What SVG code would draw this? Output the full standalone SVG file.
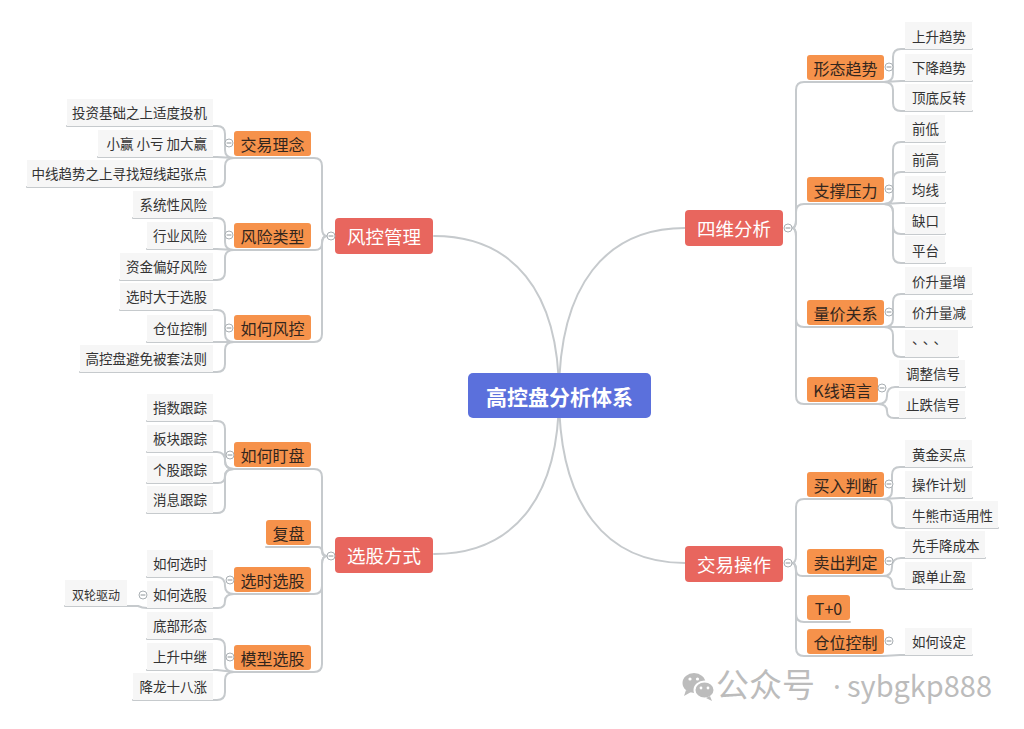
<svg xmlns="http://www.w3.org/2000/svg" width="1024" height="729" viewBox="0 0 1024 729">
<style>
.c{fill:none;stroke:#c6cacd;stroke-width:2;stroke-linecap:round}
.t{font-family:"Noto Sans CJK SC","Noto Sans",sans-serif;dominant-baseline:central}
.lf rect{fill:#f6f6f6}
.lf text{font-size:13.5px;fill:#333}
.l2 rect{fill:#f6924b}
.l2 text{font-size:16px;fill:#33261d;text-anchor:middle}
.l1 rect{fill:#e8665e}
.l1 text{font-size:18.5px;fill:#fff;text-anchor:middle}
.rt rect{fill:#5b70dc}
.rt text{font-size:21px;font-weight:bold;fill:#fff;text-anchor:middle}
.wm{font-family:"Noto Sans CJK SC","Noto Sans",sans-serif;fill:#bcbcbc}
</style>
<defs>
<g id="tog"><circle r="4" fill="#fff" stroke="#a9afb3" stroke-width="1"/><line x1="-2.4" y1="0" x2="2.4" y2="0" stroke="#8d9498" stroke-width="1"/></g>
</defs>
<rect width="1024" height="729" fill="#fff"/>

<g id="connectors">
<path class="c" d="M559,395 C559,290 512,236 434,236"/>
<path class="c" d="M559,395 C559,285 606,228 685,228"/>
<path class="c" d="M559,395 C559,500 512,554 434,554"/>
<path class="c" d="M559,395 C559,505 606,563 685,563"/>
<path class="c" d="M327,236 Q322,236 322,228 V166 Q322,158 314,158 H234"/>
<path class="c" d="M327,236 Q322,236 322,243 Q322,250 315,250 H234"/>
<path class="c" d="M327,236 Q322,236 322,244 V334 Q322,342 314,342 H234"/>
<path class="c" d="M327,556 Q322,556 322,548 V477 Q322,469 314,469 H234"/>
<path class="c" d="M327,556 Q322,556 322,551.5 Q322,547 317.5,547 H266"/>
<path class="c" d="M327,556 Q322,556 322,564 V586 Q322,594 314,594 H234"/>
<path class="c" d="M327,556 Q322,556 322,564 V664 Q322,672 314,672 H234"/>
<path class="c" d="M234,158 Q225,158 225,150 V134 Q225,126 217,126 H67"/>
<path class="c" d="M234,158 L217,157 H98"/>
<path class="c" d="M234,158 Q225,158 225,166 V179 Q225,187 217,187 H27"/>
<path class="c" d="M234,250 Q225,250 225,242 V226 Q225,218 217,218 H133"/>
<path class="c" d="M234,250 L217,249 H147"/>
<path class="c" d="M234,250 Q225,250 225,258 V272 Q225,280 217,280 H120"/>
<path class="c" d="M234,342 Q225,342 225,334 V318 Q225,310 217,310 H120"/>
<path class="c" d="M234,342 H147"/>
<path class="c" d="M234,342 Q225,342 225,350 V364 Q225,372 217,372 H80"/>
<path class="c" d="M234,469 Q225,469 225,461 V429 Q225,421 217,421 H147"/>
<path class="c" d="M234,469 Q225,469 225,461 Q225,452 217,452 H147"/>
<path class="c" d="M234,469 Q225,469 225,476 Q225,483 218,483 H147"/>
<path class="c" d="M234,469 Q225,469 225,477 V505 Q225,513 217,513 H147"/>
<path class="c" d="M234,594 Q225,594 225,586 Q225,577 217,577 H147"/>
<path class="c" d="M234,594 Q225,594 225,601 Q225,608 218,608 H147"/>
<path class="c" d="M147,608 Q142,608 138,606 H65"/>
<path class="c" d="M234,672 Q225,672 225,664 V647 Q225,639 217,639 H147"/>
<path class="c" d="M234,672 L217,670 H147"/>
<path class="c" d="M234,672 Q225,672 225,680 V692 Q225,700 217,700 H133"/>
<path class="c" d="M792,228 Q796,228 796,220 V90 Q796,82 804,82 H884"/>
<path class="c" d="M792,228 Q796,228 796,220 V212 Q796,204 804,204 H884"/>
<path class="c" d="M792,228 Q796,228 796,236 V319 Q796,327 804,327 H884"/>
<path class="c" d="M792,228 Q796,228 796,236 V396 Q796,404 804,404 H878"/>
<path class="c" d="M792,563 Q796,563 796,555 V507 Q796,499 804,499 H883"/>
<path class="c" d="M792,563 Q796,563 796,569.5 Q796,576 802.5,576 H883"/>
<path class="c" d="M792,563 Q796,563 796,571 V614 Q796,622 804,622 H850"/>
<path class="c" d="M792,563 Q796,563 796,571 V648 Q796,656 804,656 H883"/>
<path class="c" d="M884,82 Q893,82 893,74 V57 Q893,49 901,49 H972"/>
<path class="c" d="M884,82 L901,81 H972"/>
<path class="c" d="M884,82 Q893,82 893,90 V103 Q893,111 901,111 H972"/>
<path class="c" d="M884,204 Q893,204 893,196 V150 Q893,142 901,142 H945"/>
<path class="c" d="M884,204 Q893,204 893,196 V180 Q893,172 901,172 H945"/>
<path class="c" d="M884,204 L901,203 H945"/>
<path class="c" d="M884,204 Q893,204 893,212 V226 Q893,234 901,234 H945"/>
<path class="c" d="M884,204 Q893,204 893,212 V255 Q893,263 901,263 H945"/>
<path class="c" d="M884,327 Q893,327 893,319 V302 Q893,294 901,294 H972"/>
<path class="c" d="M884,327 H972"/>
<path class="c" d="M884,327 Q893,327 893,335 V349 Q893,357 901,357 H958"/>
<path class="c" d="M878,404 Q887,404 887,396 Q887,387 895,387 H965"/>
<path class="c" d="M878,404 Q887,404 887,411 Q887,418 894,418 H965"/>
<path class="c" d="M883,499 Q892,499 892,491 V475 Q892,467 900,467 H972"/>
<path class="c" d="M883,499 L900,498 H972"/>
<path class="c" d="M883,499 Q892,499 892,507 V520 Q892,528 900,528 H998"/>
<path class="c" d="M883,576 Q892,576 892,567 Q892,558 901,558 H985"/>
<path class="c" d="M883,576 Q892,576 892,582.5 Q892,589 898.5,589 H972"/>
<path class="c" d="M883,656 L900,655 H972"/>
</g>

<g id="root" class="rt t"><rect x="468" y="373" width="183" height="45" rx="5"/><text x="559.5" y="395.5">高控盘分析体系</text></g>

<g id="n-fkgl" class="l1 t"><rect x="335" y="218" width="98" height="36" rx="4"/><text x="384" y="236">风控管理</text></g>
<g id="n-xgfs" class="l1 t"><rect x="335" y="537" width="98" height="36" rx="4"/><text x="384" y="555">选股方式</text></g>
<g id="n-swfx" class="l1 t"><rect x="685" y="210" width="98" height="36" rx="4"/><text x="734" y="228">四维分析</text></g>
<g id="n-jycz" class="l1 t"><rect x="685" y="546" width="98" height="36" rx="4"/><text x="734" y="564">交易操作</text></g>

<g id="n-jyln" class="l2 t"><rect x="234" y="131" width="77" height="25" rx="3"/><text x="272.5" y="143.5">交易理念</text></g>
<g id="n-fxlx" class="l2 t"><rect x="234" y="223" width="77" height="25" rx="3"/><text x="272.5" y="235.5">风险类型</text></g>
<g id="n-rhfk" class="l2 t"><rect x="234" y="315" width="77" height="25" rx="3"/><text x="272.5" y="327.5">如何风控</text></g>
<g id="n-rhdp" class="l2 t"><rect x="234" y="442" width="77" height="25" rx="3"/><text x="272.5" y="454.5">如何盯盘</text></g>
<g id="n-fp" class="l2 t"><rect x="266" y="520" width="45" height="25" rx="3"/><text x="288.5" y="532.5">复盘</text></g>
<g id="n-xsxg" class="l2 t"><rect x="234" y="567" width="77" height="25" rx="3"/><text x="272.5" y="579.5">选时选股</text></g>
<g id="n-mxxg" class="l2 t"><rect x="234" y="645" width="77" height="25" rx="3"/><text x="272.5" y="657.5">模型选股</text></g>
<g id="n-xtqs" class="l2 t"><rect x="807" y="55" width="77" height="25" rx="3"/><text x="845.5" y="67.5">形态趋势</text></g>
<g id="n-zcyl" class="l2 t"><rect x="807" y="177" width="77" height="25" rx="3"/><text x="845.5" y="189.5">支撑压力</text></g>
<g id="n-ljgx" class="l2 t"><rect x="807" y="300" width="77" height="25" rx="3"/><text x="845.5" y="312.5">量价关系</text></g>
<g id="n-kxyy" class="l2 t"><rect x="807" y="377" width="71" height="25" rx="3"/><text x="842.5" y="389.5">K线语言</text></g>
<g id="n-mrpd" class="l2 t"><rect x="807" y="472" width="77" height="25" rx="3"/><text x="845.5" y="484.5">买入判断</text></g>
<g id="n-mcpd" class="l2 t"><rect x="807" y="549" width="77" height="25" rx="3"/><text x="845.5" y="561.5">卖出判定</text></g>
<g id="n-t0" class="l2 t"><rect x="807" y="595" width="43" height="25" rx="3"/><text x="828.5" y="607.5">T+0</text></g>
<g id="n-cwkz2" class="l2 t"><rect x="807" y="629" width="77" height="25" rx="3"/><text x="845.5" y="641.5">仓位控制</text></g>

<g class="lf t" text-anchor="end">
<g id="l1"><rect x="67" y="99" width="146" height="27"/><text x="207" y="112">投资基础之上适度投机</text></g>
<g id="l2"><rect x="98" y="130" width="115" height="27"/><text x="207" y="143">小赢 小亏 加大赢</text></g>
<g id="l3"><rect x="27" y="160" width="186" height="27"/><text x="207" y="173">中线趋势之上寻找短线起张点</text></g>
<g id="l4"><rect x="133" y="191" width="80" height="27"/><text x="207" y="204">系统性风险</text></g>
<g id="l5"><rect x="147" y="222" width="66" height="27"/><text x="207" y="235">行业风险</text></g>
<g id="l6"><rect x="120" y="253" width="93" height="27"/><text x="207" y="266">资金偏好风险</text></g>
<g id="l7"><rect x="120" y="283" width="93" height="27"/><text x="207" y="296">选时大于选股</text></g>
<g id="l8"><rect x="147" y="315" width="66" height="27"/><text x="207" y="328">仓位控制</text></g>
<g id="l9"><rect x="80" y="345" width="133" height="27"/><text x="207" y="358">高控盘避免被套法则</text></g>
<g id="l10"><rect x="147" y="394" width="66" height="27"/><text x="207" y="407">指数跟踪</text></g>
<g id="l11"><rect x="147" y="425" width="66" height="27"/><text x="207" y="438">板块跟踪</text></g>
<g id="l12"><rect x="147" y="456" width="66" height="27"/><text x="207" y="469">个股跟踪</text></g>
<g id="l13"><rect x="147" y="486" width="66" height="27"/><text x="207" y="499">消息跟踪</text></g>
<g id="l14"><rect x="147" y="550" width="66" height="27"/><text x="207" y="563">如何选时</text></g>
<g id="l15"><rect x="147" y="581" width="66" height="27"/><text x="207" y="594">如何选股</text></g>
<g id="l16"><rect x="65" y="580" width="62" height="26"/><text x="120" y="594" style="font-size:12px">双轮驱动</text></g>
<g id="l17"><rect x="147" y="612" width="66" height="27"/><text x="207" y="625">底部形态</text></g>
<g id="l18"><rect x="147" y="643" width="66" height="27"/><text x="207" y="656">上升中继</text></g>
<g id="l19"><rect x="133" y="673" width="80" height="27"/><text x="207" y="686">降龙十八涨</text></g>
</g>

<g class="lf t" text-anchor="start">
<g id="r1"><rect x="905" y="22" width="67" height="27"/><text x="912" y="35.5">上升趋势</text></g>
<g id="r2"><rect x="905" y="54" width="67" height="27"/><text x="912" y="67">下降趋势</text></g>
<g id="r3"><rect x="905" y="84" width="67" height="27"/><text x="912" y="97">顶底反转</text></g>
<g id="r4"><rect x="905" y="115" width="40" height="27"/><text x="912" y="128">前低</text></g>
<g id="r5"><rect x="905" y="145" width="40" height="27"/><text x="912" y="158.5">前高</text></g>
<g id="r6"><rect x="905" y="176" width="40" height="27"/><text x="912" y="189">均线</text></g>
<g id="r7"><rect x="905" y="207" width="40" height="27"/><text x="912" y="220">缺口</text></g>
<g id="r8"><rect x="905" y="236" width="40" height="27"/><text x="912" y="250">平台</text></g>
<g id="r9"><rect x="905" y="267" width="67" height="27"/><text x="912" y="281">价升量增</text></g>
<g id="r10"><rect x="905" y="300" width="67" height="27"/><text x="912" y="312">价升量减</text></g>
<g id="r11"><rect x="905" y="330" width="53" height="27"/><text x="912" y="338" style="letter-spacing:4px">、、、</text></g>
<g id="r12"><rect x="899" y="360" width="66" height="27"/><text x="906" y="373">调整信号</text></g>
<g id="r13"><rect x="899" y="391" width="66" height="27"/><text x="906" y="404">止跌信号</text></g>
<g id="r14"><rect x="905" y="440" width="67" height="27"/><text x="912" y="454">黄金买点</text></g>
<g id="r15"><rect x="905" y="471" width="67" height="27"/><text x="912" y="484">操作计划</text></g>
<g id="r16"><rect x="905" y="501" width="93" height="27"/><text x="912" y="515">牛熊市适用性</text></g>
<g id="r17"><rect x="905" y="531" width="80" height="27"/><text x="912" y="545">先手降成本</text></g>
<g id="r18"><rect x="905" y="562" width="67" height="27"/><text x="912" y="576">跟单止盈</text></g>
<g id="r19"><rect x="905" y="628" width="67" height="27"/><text x="912" y="641">如何设定</text></g>
</g>

<g id="toggles">
<use href="#tog" x="331" y="236"/><use href="#tog" x="331" y="556"/>
<use href="#tog" x="229" y="143"/><use href="#tog" x="229" y="235"/><use href="#tog" x="229" y="328"/>
<use href="#tog" x="230" y="455"/><use href="#tog" x="230" y="580"/><use href="#tog" x="230" y="657"/>
<use href="#tog" x="143" y="595"/>
<use href="#tog" x="788" y="228"/><use href="#tog" x="788" y="563"/>
<use href="#tog" x="889" y="67"/><use href="#tog" x="889" y="189"/><use href="#tog" x="889" y="312"/>
<use href="#tog" x="882" y="388"/><use href="#tog" x="889" y="484"/><use href="#tog" x="889" y="561"/><use href="#tog" x="889" y="641"/>
</g>

<g id="watermark">
<ellipse cx="694" cy="683" rx="11.5" ry="10" fill="#bcbcbc"/>
<path d="M686,690 L684,696 L691,692 Z" fill="#bcbcbc"/>
<ellipse cx="704.5" cy="690" rx="10" ry="8.5" fill="#bcbcbc" stroke="#fff" stroke-width="2"/>
<path d="M710,696 L712,701 L706,698 Z" fill="#bcbcbc"/>
<circle cx="690" cy="679" r="1.6" fill="#fff"/><circle cx="697.5" cy="679" r="1.6" fill="#fff"/>
<circle cx="701" cy="688" r="1.4" fill="#fff"/><circle cx="708" cy="688" r="1.4" fill="#fff"/>
<text class="wm" x="716" y="697" style="font-size:33px">公众号</text>
<text x="833" y="697" style="font-size:29px;font-family:'Noto Sans',sans-serif;fill:#bcbcbc">·</text>
<text class="wm" x="847" y="697" style="font-size:29px" textLength="145" lengthAdjust="spacingAndGlyphs">sybgkp888</text>
</g>
</svg>
